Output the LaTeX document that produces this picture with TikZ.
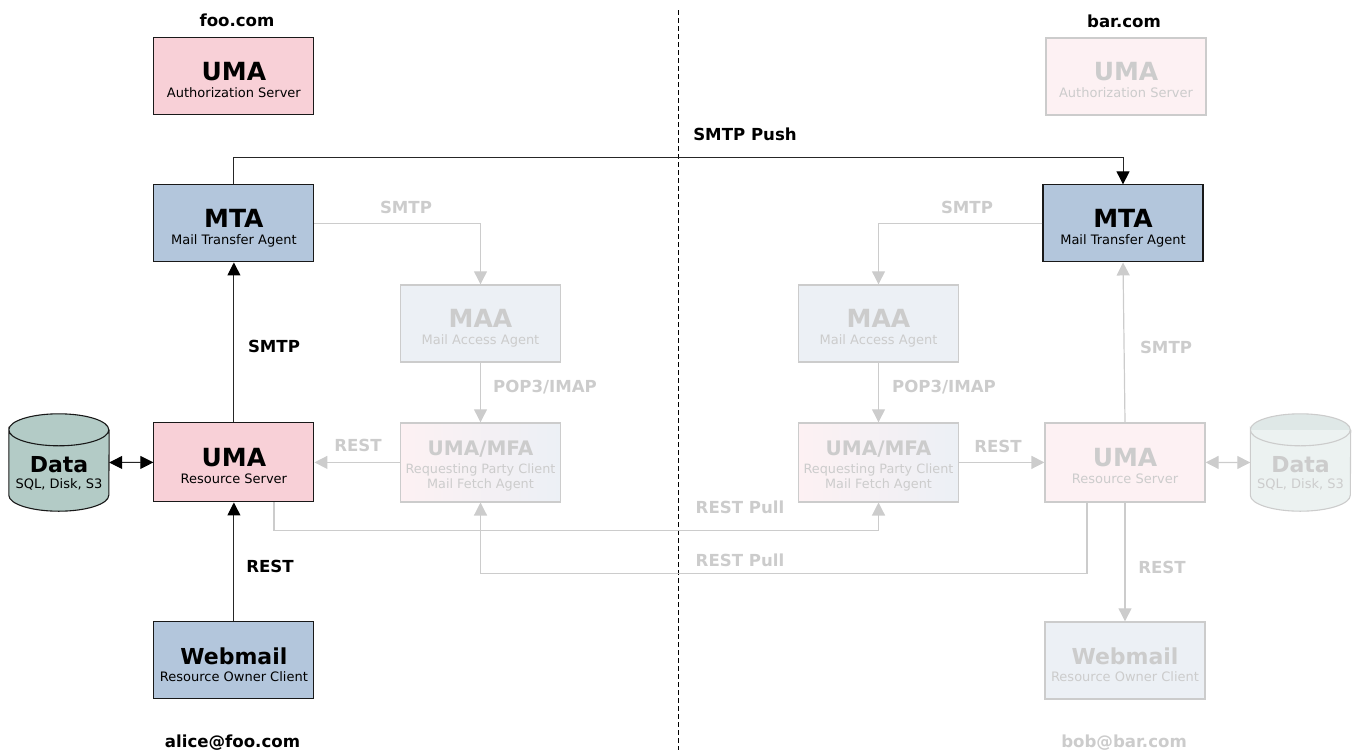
\documentclass[tikz,border=0pt]{standalone}
\usepackage{fontspec}
\setmainfont{DejaVu Sans}
\usetikzlibrary{arrows.meta}
\definecolor{pinkF}{HTML}{F8D0D7}
\definecolor{blueF}{HTML}{B3C6DC}
\definecolor{dataF}{HTML}{B3CBC6}
\definecolor{pinkL}{HTML}{FDF1F3}
\definecolor{blueL}{HTML}{ECF0F5}
\definecolor{dataL}{HTML}{ECF2F1}
\definecolor{dataT}{HTML}{DFE8E7}
\definecolor{ghost}{HTML}{CCCCCC}
% one text line, set with no height or width of its own, its baseline #1 below the middle of the node
\newcommand{\lineat}[3]{\makebox[0pt]{\raisebox{-#1}[0pt][0pt]{\fontsize{#2}{#2}\selectfont #3}}}
\newcommand{\twoline}[3][25pt]{\lineat{3.7pt}{#1}{\bfseries #2}\lineat{21.5pt}{13pt}{#3}}
\tikzset{
  box/.style={draw=black!90,line width=1.1pt,minimum width=160pt,minimum height=77pt,inner sep=0pt,text=black},
  gbox/.style={box,draw=ghost,line width=1.2pt,text=ghost},
  tall/.style={minimum height=79pt},
  dbnode/.style={minimum width=100pt,minimum height=97pt,inner sep=0pt},
  lab/.style={font=\fontsize{16.6}{18}\selectfont\bfseries,inner sep=0pt,text=black},
  glab/.style={lab,text=ghost},
  blk/.style={draw=black!85,line width=1pt,-{Triangle[length=13pt,width=13pt,color=black]}},
  gry/.style={draw=ghost,line width=1.2pt,-{Triangle[length=13pt,width=13pt]}},
  blkd/.style={blk,{Triangle[length=13pt,width=13pt,color=black]}-{Triangle[length=13pt,width=13pt,color=black]}},
  gryd/.style={gry,{Triangle[length=13pt,width=13pt]}-{Triangle[length=13pt,width=13pt]}},
}
% cylinder behind a node: #1 node, #2 line colour, #3 body, #4 upper half of the top.
\newcommand{\cyl}[4]{%
  \fill[#3] ([yshift=-16pt]#1.north west) arc[start angle=180,end angle=0,x radius=50pt,y radius=16pt]
     -- ([yshift=16pt]#1.south east) arc[start angle=0,end angle=-180,x radius=50pt,y radius=16pt] -- cycle;
  \fill[#4] ([yshift=-16pt]#1.north west) arc[start angle=180,end angle=0,x radius=50pt,y radius=16pt] -- cycle;
  \draw[#2,line width=1.1pt] ([yshift=-16pt]#1.north west) arc[start angle=180,end angle=-180,x radius=50pt,y radius=16pt]
     -- ([yshift=16pt]#1.south west) arc[start angle=180,end angle=360,x radius=50pt,y radius=16pt]
     -- ([yshift=-16pt]#1.north east);
}
\begin{document}
\begin{tikzpicture}[x=1pt,y=-1pt]
\useasboundingbox (0,0) rectangle (1357,753);
\coordinate (divT) at (678.7,10);
\coordinate (divB) at (678.7,750);
\draw[black,line width=1pt,dash pattern=on 5pt off 3pt] (divT) -- (divB);
% cylinders: outlines first, then their nodes carry the names and the text
\path (59,462.5) node[dbnode] (dataLbg) {};
\cyl{dataLbg}{black!90}{dataF}{dataF}
\path (1300.5,462.5) node[dbnode] (dataRbg) {};
\cyl{dataRbg}{ghost}{dataL}{dataT}
% left column
\node[box,fill=pinkF] (authL) at (233.9,76.4) {\twoline{UMA}{Authorization Server}};
\node[box,fill=blueF] (mtaL) at (233.9,223.4) {\twoline{MTA}{Mail Transfer Agent}};
\node[box,tall,fill=pinkF] (umaL) at (233.9,462.4) {\twoline{UMA}{Resource Server}};
\node[box,fill=blueF] (webL) at (233.9,660.4) {\twoline[22pt]{Webmail}{Resource Owner Client}};
\node[gbox,fill=blueL] (maaL) at (480.5,323.4) {\twoline{MAA}{Mail Access Agent}};
\node[gbox,tall,left color=pinkL,right color=blueL] (mfaL) at (480.5,462.4) {\lineat{-6.8pt}{20pt}{\bfseries UMA/MFA}\lineat{10.8pt}{12.8pt}{Requesting Party Client}\lineat{25.8pt}{12.8pt}{Mail Fetch Agent}};
\node[dbnode,text=black] (dataA) at (59,462.5) {\lineat{9.5pt}{22pt}{\bfseries Data}\lineat{26pt}{13pt}{SQL, Disk, S3}};
% right column
\node[gbox,fill=pinkL] (authR) at (1126,76.4) {\twoline{UMA}{Authorization Server}};
\node[box,fill=blueF] (mtaR) at (1123,223.4) {\twoline{MTA}{Mail Transfer Agent}};
\node[gbox,tall,fill=pinkL] (umaR) at (1125,462.4) {\twoline{UMA}{Resource Server}};
\node[gbox,fill=blueL] (webR) at (1125,660.4) {\twoline[22pt]{Webmail}{Resource Owner Client}};
\node[gbox,fill=blueL] (maaR) at (878.5,323.4) {\twoline{MAA}{Mail Access Agent}};
\node[gbox,tall,left color=pinkL,right color=blueL] (mfaR) at (878.5,462.4) {\lineat{-6.8pt}{20pt}{\bfseries UMA/MFA}\lineat{10.8pt}{12.8pt}{Requesting Party Client}\lineat{25.8pt}{12.8pt}{Mail Fetch Agent}};
\node[dbnode,text=ghost] (dataB) at (1300.5,462.5) {\lineat{9.5pt}{22pt}{\bfseries Data}\lineat{26pt}{13pt}{SQL, Disk, S3}};
% grey connectors
\draw[gry] (mtaL.east) -| (maaL.north);
\draw[gry] (maaL.south) -- (mfaL.north);
\draw[gry] (mfaL.west) -- (umaL.east);
\draw[gry] (mtaR.west) -| (maaR.north);
\draw[gry] (maaR.south) -- (mfaR.north);
\draw[gry] (mfaR.east) -- (umaR.west);
\draw[gry] (umaR.north) -- (mtaR.south);
\draw[gry] (umaR.south) -- (webR.north);
\draw[gryd] (umaR.east) -- (dataB.west);
\draw[gry] ([xshift=40pt]umaL.south) -- ++(0,28) -| (mfaR.south);
\draw[gry] ([xshift=-38pt]umaR.south) -- ++(0,71) -| (mfaL.south);
% black connectors
\draw[blk] (mtaL.north) -- ++(0,-27) -| (mtaR.north);
\draw[blk] (umaL.north) -- (mtaL.south);
\draw[blk] (webL.north) -- (umaL.south);
\draw[blkd] (dataA.east) -- (umaL.west);
% labels
\node[lab] (hFoo) at (237,20) {foo.com};
\node[lab] (hBar) at (1124,21) {bar.com};
\node[lab] (hAlice) at (232.5,742.5) {alice@foo.com};
\node[glab] (hBob) at (1124,742.5) {bob@bar.com};
\node[lab] (lPush) at (745,134) {SMTP Push};
\node[lab] (lS1) at (274,346) {SMTP};
\node[lab] (lR1) at (270,566) {REST};
\node[glab] (lS2) at (406,207) {SMTP};
\node[glab] (lS3) at (967,207) {SMTP};
\node[glab] (lP1) at (545,387) {POP3/IMAP};
\node[glab] (lP2) at (944,387) {POP3/IMAP};
\node[glab] (lR2) at (358,445) {REST};
\node[glab] (lR3) at (998,446) {REST};
\node[glab] (lPull1) at (740,507) {REST Pull};
\node[glab] (lPull2) at (740,560) {REST Pull};
\node[glab] (lS4) at (1166,347) {SMTP};
\node[glab] (lR4) at (1162,567) {REST};
\end{tikzpicture}
\end{document}
